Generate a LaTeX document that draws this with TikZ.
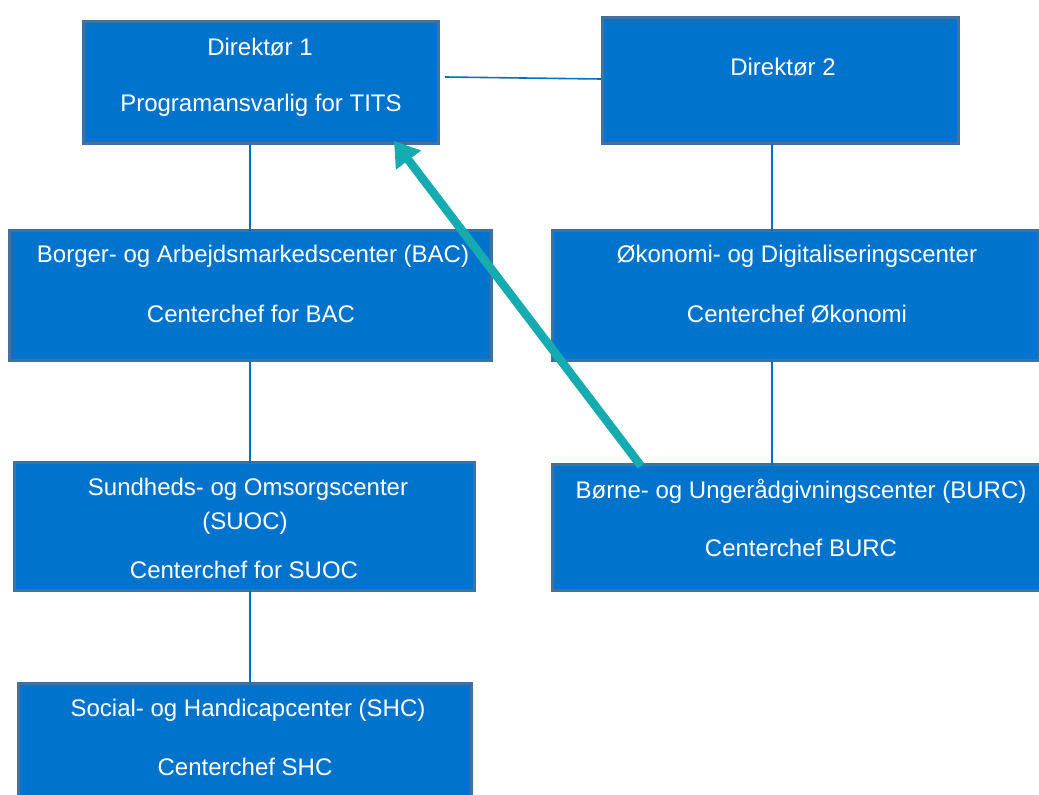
\documentclass[tikz,border=0pt]{standalone}
\usepackage{fontspec}
\setmainfont{Liberation Sans}
\usetikzlibrary{arrows.meta}
\definecolor{boxfill}{RGB}{0,116,204}
\definecolor{boxline}{RGB}{65,113,156}
\definecolor{conn}{RGB}{0,112,192}
\definecolor{teal}{RGB}{22,171,176}
\begin{document}
\begin{tikzpicture}[x=1pt,y=-1pt,
  box/.style={rectangle,fill=boxfill,draw=boxline,line width=3pt,inner sep=0pt,outer sep=0pt},
  lbl/.style={text=white,font=\fontsize{24}{28}\selectfont,inner sep=0pt,anchor=center},
  conline/.style={draw=conn,line width=1.6pt},
  bigarrow/.style={draw=teal,line width=8.5pt,-{Triangle[length=24pt,width=30pt]}}]
\useasboundingbox (0,0) rectangle (1039,795);
\fill[white] (0,0) rectangle (1039,795);
% boxes
\node[box,minimum width=355pt,minimum height=122pt] (d1) at (261,82.5) {};
\node[box,minimum width=356pt,minimum height=126pt] (d2) at (780.5,80.5) {};
\node[box,minimum width=482pt,minimum height=130pt] (bac) at (250.5,295.5) {};
\node[box,minimum width=487pt,minimum height=130pt] (oek) at (796,295.5) {};
\node[box,minimum width=460pt,minimum height=128pt] (suoc) at (244.5,526.5) {};
\node[box,minimum width=491pt,minimum height=126pt] (burc) at (798,527.5) {};
\node[box,minimum width=453pt,minimum height=115pt] (shc) at (245,741) {};
% texts
\node[lbl] (t1a) at (260,47) {Direktør 1};
\node[lbl] (t1b) at (261,105) {Programansvarlig for TITS};
\node[lbl] (t2a) at (783,67) {Direktør 2};
\node[lbl] (t3a) at (253,256) {Borger- og Arbejdsmarkedscenter (BAC)};
\node[lbl] (t3b) at (251,314) {Centerchef for BAC};
\node[lbl] (t4a) at (797,256) {Økonomi- og Digitaliseringscenter};
\node[lbl] (t4b) at (797,314) {Centerchef Økonomi};
\node[lbl] (t5a) at (248,489) {Sundheds- og Omsorgscenter};
\node[lbl] (t5b) at (245,523) {(SUOC)};
\node[lbl] (t5c) at (244,570) {Centerchef for SUOC};
\node[lbl] (t6a) at (801,491) {Børne- og Ungerådgivningscenter (BURC)};
\node[lbl] (t6b) at (801,548) {Centerchef BURC};
\node[lbl] (t7a) at (248,710) {Social- og Handicapcenter (SHC)};
\node[lbl] (t7b) at (245,767) {Centerchef SHC};
% connectors
\coordinate (lx) at (250,0);
\coordinate (rx) at (772,0);
\draw[conline] (d1.south -| lx) -- (bac.north -| lx);
\draw[conline] (bac.south -| lx) -- (suoc.north -| lx);
\draw[conline] (suoc.south -| lx) -- (shc.north -| lx);
\draw[conline] (d2.south -| rx) -- (oek.north -| rx);
\draw[conline] (oek.south -| rx) -- (burc.north -| rx);
\coordinate (hl) at (445,77);
\coordinate (hr) at (601,79);
\draw[conline] (hl) -- (hr);
% arrow
\coordinate (as) at (641,466);
\coordinate (ae) at (394,141);
\draw[bigarrow] (as) -- (ae);
\end{tikzpicture}
\end{document}
